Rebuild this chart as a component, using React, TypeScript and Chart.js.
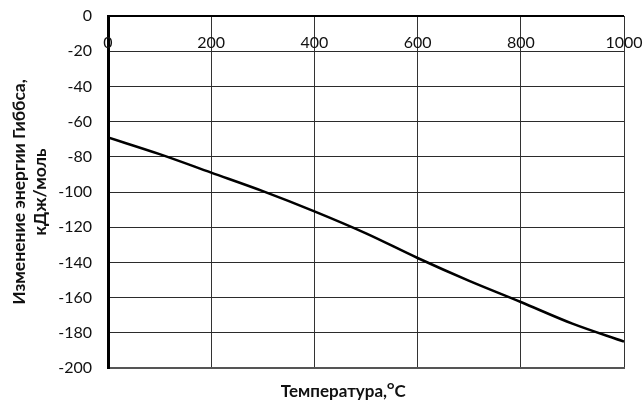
import React, { useEffect, useRef } from "react";
import { Chart, registerables } from "chart.js";

Chart.register(...registerables);

const temperatures = [0, 100, 200, 300, 400, 500, 600, 700, 800, 900, 1000];
const gibbsEnergy = [-69, -78.5, -89, -99.5, -111, -123.5, -137.5, -150.5, -162.5, -174.8, -185];
const xTitle = "Температура,ᴼC";
const yTitle = ["Изменение энергии Гиббса,", "кДж/моль"];

const topTickLabels = {
  id: "topTickLabels",
  afterDatasetsDraw(chart: any) {
    const { ctx, chartArea } = chart;
    const xs = chart.scales.x;
    ctx.save();
    ctx.font = "16px Lato";
    ctx.fillStyle = "#111";
    ctx.textAlign = "center";
    ctx.textBaseline = "middle";
    xs.ticks.forEach((t: any) => {
      ctx.fillText(String(t.value), xs.getPixelForValue(t.value), chartArea.top + 27);
    });
    ctx.restore();
  },
};

export default function App() {
  const ref = useRef<HTMLCanvasElement>(null);
  useEffect(() => {
    if (!ref.current) return;
    const chart = new Chart(ref.current, {
      type: "line",
      data: {
        datasets: [
          {
            data: temperatures.map((t, i) => ({ x: t, y: gibbsEnergy[i] })),
            borderColor: "#000",
            borderWidth: 2.5,
            pointRadius: 0,
            cubicInterpolationMode: "monotone",
            fill: false,
          },
        ],
      },
      options: {
        responsive: false,
        animation: false,
        layout: { padding: { top: 16, right: 19, left: 0, bottom: 0 } },
        plugins: { legend: { display: false }, tooltip: { enabled: false } },
        scales: {
          x: {
            type: "linear",
            position: "bottom",
            min: 0,
            max: 1000,
            ticks: { stepSize: 200, display: false },
            grid: { color: "#333", lineWidth: 1, drawTicks: false },
            border: { color: "#555", width: 2 },
            title: {
              display: true,
              text: xTitle + "\u00A0".repeat(11),
              font: { family: "Lato", size: 17, weight: "bold" },
              color: "#111",
              padding: { top: 0, bottom: 2 },
            },
            afterFit: (s: any) => {
              s.height = 36;
              s.paddingLeft = 0;
              s.paddingRight = 0;
            },
          },
          y: {
            type: "linear",
            min: -200,
            max: 0,
            ticks: {
              stepSize: 20,
              font: { family: "Lato", size: 16 },
              color: "#111",
              padding: 16,
            },
            grid: {
              color: (c: any) => (c.tick && c.tick.value === 0 ? "#000" : "#2b2b2b"),
              lineWidth: (c: any) => (c.tick && c.tick.value === 0 ? 2 : 1),
              drawTicks: false,
            },
            border: { color: "#000", width: 3 },
            title: {
              display: true,
              text: yTitle,
              font: { family: "Lato", size: 17.5, weight: "bold", lineHeight: 1.2 },
              color: "#111",
              padding: { top: 8.5, bottom: 0 },
            },
            afterFit: (s: any) => {
              s.width = 108;
              s.paddingTop = 0;
              s.paddingBottom = 0;
            },
          },
        },
      } as any,
      plugins: [topTickLabels],
    });
    return () => chart.destroy();
  }, []);
  return (
    <canvas
      ref={ref}
      width={643}
      height={404}
      style={{ position: "absolute", left: 0, top: 0, display: "block" }}
    />
  );
}
